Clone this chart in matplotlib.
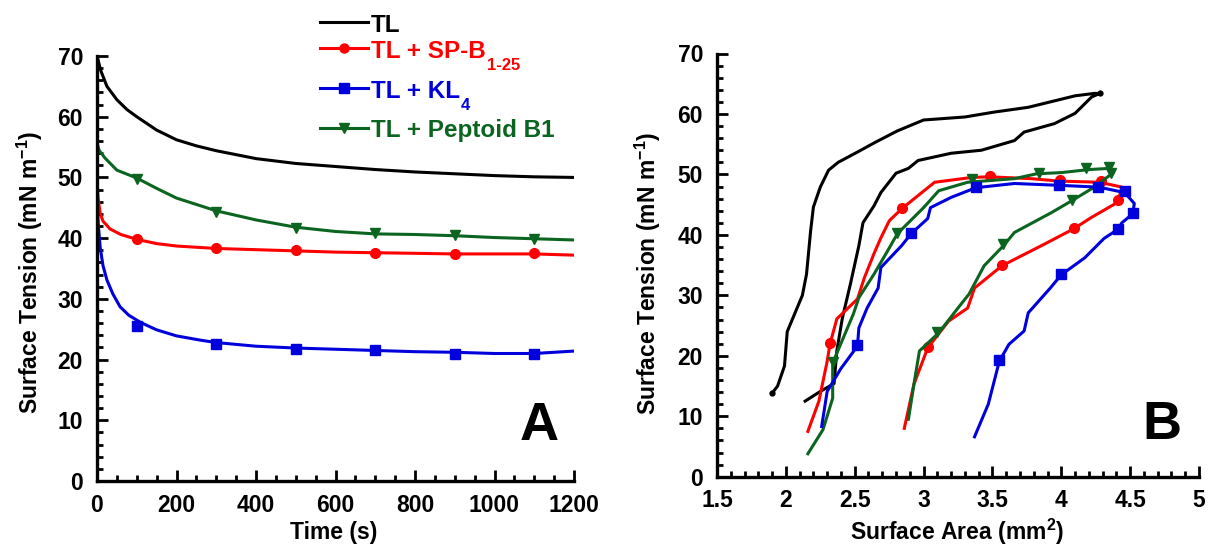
import matplotlib
matplotlib.use("Agg")
import matplotlib.pyplot as plt
from matplotlib.lines import Line2D
from matplotlib.ticker import MultipleLocator

plt.rcParams['font.family'] = ['Liberation Sans', 'DejaVu Sans']
plt.rcParams['font.weight'] = 'bold'
plt.rcParams['mathtext.fontset'] = 'custom'
plt.rcParams['mathtext.rm'] = 'Liberation Sans:bold'
plt.rcParams['mathtext.bf'] = 'Liberation Sans:bold'
plt.rcParams['mathtext.default'] = 'bf'

BLACK = '#000000'
RED = '#ff0000'
BLUE = '#0000dd'
GREEN = '#0b6420'

# ---- panel A: surface tension vs time ----
tl_t = [0, 10, 25, 50, 75, 100, 150, 200, 250, 300, 400, 500, 600, 700, 800, 900, 1000, 1100, 1200]
tl_st = [70, 67.5, 65, 62.8, 61.2, 60, 57.8, 56.2, 55.2, 54.4, 53.1, 52.3, 51.8, 51.3, 50.9, 50.6, 50.3, 50.1, 50.0]

spb_t = [0, 3, 8, 15, 33, 60, 100, 150, 200, 300, 400, 500, 600, 700, 800, 900, 1000, 1100, 1200]
spb_st = [49, 46.5, 44.1, 42.8, 41.5, 40.6, 39.8, 39.1, 38.7, 38.3, 38.1, 37.9, 37.7, 37.6, 37.5, 37.4, 37.4, 37.4, 37.2]

kl4_t = [0, 3, 8, 15, 25, 40, 58, 80, 110, 150, 200, 260, 300, 400, 500, 600, 700, 800, 900, 1000, 1100, 1200]
kl4_st = [46.8, 42.5, 38.5, 35.5, 33.1, 30.8, 28.7, 27.3, 26.1, 24.9, 23.9, 23.2, 22.8, 22.2, 21.9, 21.7, 21.5, 21.3, 21.2, 21.0, 21.0, 21.4]

pep_t = [0, 5, 20, 50, 100, 150, 200, 300, 400, 500, 600, 700, 800, 900, 1000, 1100, 1200]
pep_st = [55.8, 54.5, 53.2, 51.2, 49.9, 48.2, 46.6, 44.5, 43.0, 41.8, 41.1, 40.7, 40.6, 40.4, 40.1, 39.9, 39.7]

mark_t = [100, 300, 500, 700, 900, 1100]
spb_mark = [39.8, 38.3, 38.0, 37.6, 37.4, 37.5]
kl4_mark = [25.5, 22.6, 21.8, 21.6, 21.0, 20.9]
pep_mark = [49.8, 44.3, 41.7, 40.8, 40.5, 39.9]

# ---- panel B: surface tension vs surface area ----
tlB_a = [1.90, 1.94, 1.99, 2.01, 2.12, 2.15, 2.18, 2.20, 2.25, 2.31, 2.38, 2.52, 2.64, 2.81, 3.00, 3.30,
         3.51, 3.76, 4.10, 4.24, 4.28, 4.22, 4.10, 3.95, 3.73, 3.66, 3.42, 3.20, 2.96, 2.89, 2.80, 2.69,
         2.64, 2.56, 2.53, 2.47, 2.41, 2.37, 2.35, 2.25, 2.14]
tlB_st = [13.8, 15.0, 18.3, 24.0, 30.0, 33.5, 40.7, 44.6, 47.9, 50.7, 52.0, 53.7, 55.2, 57.2, 59.0, 59.5,
          60.3, 61.1, 63.0, 63.4, 63.4, 62.8, 60.1, 58.4, 57.0, 55.6, 54.0, 53.5, 52.3, 51.0, 50.2, 47.0,
          44.8, 42.0, 38.2, 32.0, 26.2, 20.8, 15.4, 14.1, 12.5]
tlB_mark_a = [1.90, 4.28]
tlB_mark_st = [13.8, 63.4]

spbB_a = [2.16, 2.24, 2.30, 2.32, 2.37, 2.52, 2.57, 2.64, 2.69, 2.75, 2.84, 3.08, 3.35, 3.48, 3.78, 3.98,
          4.28, 4.44, 4.41, 4.22, 4.09, 3.88, 3.57, 3.37, 3.32, 3.18, 3.03, 2.93, 2.86]
spbB_st = [7.5, 12.5, 19.1, 21.9, 26.1, 29.4, 32.9, 36.9, 39.5, 42.3, 44.3, 48.7, 49.5, 49.6, 49.3, 48.9,
           48.7, 47.9, 45.4, 42.9, 41.0, 38.5, 34.9, 31.2, 27.9, 25.7, 21.3, 15.3, 8.0]
spbB_mark_a = [2.32, 2.84, 3.48, 3.99, 4.29, 4.41, 4.09, 3.57, 3.03]
spbB_mark_st = [22.1, 44.5, 49.7, 49.0, 48.9, 45.7, 41.2, 35.0, 21.5]

kl4B_a = [2.26, 2.30, 2.40, 2.52, 2.53, 2.59, 2.67, 2.69, 2.84, 2.91, 3.03, 3.05, 3.20, 3.38, 3.66, 3.98,
          4.27, 4.46, 4.53, 4.52, 4.44, 4.41, 4.31, 4.17, 4.00, 3.92, 3.76, 3.73, 3.62, 3.55, 3.47, 3.37]
kl4B_st = [8.3, 14.1, 17.9, 21.6, 24.6, 27.9, 31.2, 34.6, 38.2, 40.2, 42.7, 44.5, 46.2, 47.8, 48.5, 48.2,
           47.9, 47.0, 45.2, 43.5, 42.0, 40.9, 39.4, 36.2, 33.4, 31.2, 27.1, 24.1, 21.9, 19.1, 12.0, 6.6]
kl4B_mark_a = [2.52, 2.91, 3.38, 3.98, 4.27, 4.46, 4.52, 4.41, 4.00, 3.55]
kl4B_mark_st = [21.8, 40.3, 48.0, 48.3, 48.0, 47.2, 43.6, 41.0, 33.6, 19.3]

pepB_a = [2.16, 2.27, 2.34, 2.34, 2.49, 2.53, 2.64, 2.74, 2.81, 3.00, 3.11, 3.32, 3.66, 3.82, 4.00, 4.20,
          4.35, 4.38, 4.36, 4.24, 4.08, 3.93, 3.66, 3.58, 3.44, 3.33, 3.26, 3.11, 2.97, 2.93, 2.89]
pepB_st = [3.8, 7.8, 13.0, 18.8, 26.9, 29.6, 33.5, 37.4, 40.2, 44.5, 47.3, 48.7, 49.3, 50.1, 50.3, 50.8,
           51.0, 50.3, 50.0, 47.9, 45.7, 43.7, 40.4, 38.2, 34.9, 30.2, 28.2, 23.8, 20.8, 15.3, 9.5]
pepB_mark_a = [2.34, 2.81, 3.35, 3.84, 4.18, 4.35, 4.36, 4.08, 3.58, 3.10]
pepB_mark_st = [19.0, 40.3, 49.2, 50.3, 51.0, 51.2, 50.2, 45.8, 38.5, 24.0]

W, H = 1208, 548
fig = plt.figure(figsize=(W / 100, H / 100), dpi=100)

axA = fig.add_axes([97 / W, 1 - 481 / H, 477 / W, 425 / H])
axB = fig.add_axes([717 / W, 1 - 476.7 / H, 482 / W, 423.2 / H])

LW = 2.2

axA.plot(tl_t, tl_st, color=BLACK, lw=LW)
axA.plot(pep_t, pep_st, color=GREEN, lw=LW)
axA.plot(spb_t, spb_st, color=RED, lw=LW)
axA.plot(kl4_t, kl4_st, color=BLUE, lw=LW)
axA.plot(mark_t, spb_mark, 'o', color=RED, ms=7)
axA.plot(mark_t, kl4_mark, 's', color=BLUE, ms=6.5)
axA.plot(mark_t, pep_mark, 'v', color=GREEN, ms=7)

axB.plot(tlB_a, tlB_st, color=BLACK, lw=LW)
axB.plot(tlB_mark_a, tlB_mark_st, 'o', color=BLACK, ms=3.5)
axB.plot(spbB_a, spbB_st, color=RED, lw=LW)
axB.plot(spbB_mark_a, spbB_mark_st, 'o', color=RED, ms=7)
axB.plot(pepB_a, pepB_st, color=GREEN, lw=LW)
axB.plot(pepB_mark_a, pepB_mark_st, 'v', color=GREEN, ms=7)
axB.plot(kl4B_a, kl4B_st, color=BLUE, lw=LW)
axB.plot(kl4B_mark_a, kl4B_mark_st, 's', color=BLUE, ms=6.5)

axA.set_xlim(0, 1200)
axA.set_ylim(0, 70)
axA.xaxis.set_major_locator(MultipleLocator(200))
axA.xaxis.set_minor_locator(MultipleLocator(50))
axA.yaxis.set_major_locator(MultipleLocator(10))
axA.yaxis.set_minor_locator(MultipleLocator(2))

axB.set_xlim(1.5, 5)
axB.set_ylim(0, 70)
axB.xaxis.set_major_locator(MultipleLocator(0.5))
axB.xaxis.set_minor_locator(MultipleLocator(0.1))
axB.yaxis.set_major_locator(MultipleLocator(10))
axB.yaxis.set_minor_locator(MultipleLocator(2))
axB.set_xticks([1.5, 2, 2.5, 3, 3.5, 4, 4.5, 5])
axB.set_xticklabels(['1.5', '2', '2.5', '3', '3.5', '4', '4.5', '5'])

for ax in (axA, axB):
    for s in ('top', 'right'):
        ax.spines[s].set_visible(False)
    for s in ('left', 'bottom'):
        ax.spines[s].set_linewidth(2.4)
    ax.tick_params(which='major', direction='in', length=8, width=2, labelsize=16.5)
    ax.tick_params(which='minor', direction='in', length=4, width=2)
    ax.tick_params(axis='x', pad=9)
    ax.tick_params(axis='y', pad=10)
    for lab in ax.get_xticklabels() + ax.get_yticklabels():
        lab.set_fontweight('bold')

fs = 16.5
fig.text(30 / W, 1 - 272 / H, 'Surface Tension (mN m$^{-1}$)', rotation=90,
         ha='center', va='center', fontsize=fs, fontweight='bold')
fig.text(648 / W, 1 - 273 / H, 'Surface Tension (mN m$^{-1}$)', rotation=90,
         ha='center', va='center', fontsize=fs, fontweight='bold')
fig.text(334 / W, 1 - 532 / H, 'Time (s)', ha='center', va='center', fontsize=fs, fontweight='bold')
fig.text(957 / W, 1 - 532 / H, 'Surface Area (mm$^{2}$)', ha='center', va='center',
         fontsize=fs, fontweight='bold')

fig.text(539 / W, 1 - 426 / H, 'A', ha='center', va='center', fontsize=39, fontweight='bold')
fig.text(1162 / W, 1 - 425 / H, 'B', ha='center', va='center', fontsize=39, fontweight='bold')

# legend drawn by hand
legend_rows = [
    ('TL', None, BLACK, None, 21.7, 32.3),
    ('TL + SP-B', '1-25', RED, 'o', 48.3, 58.3),
    ('TL + KL', '4', BLUE, 's', 88.3, 97.7),
    ('TL + Peptoid B1', None, GREEN, 'v', 128.3, 137.3),
]
fig.canvas.draw()
renderer = fig.canvas.get_renderer()
for label, sub, col, mk, yline, ybase in legend_rows:
    fig.add_artist(Line2D([320 / W, 368 / W], [1 - yline / H, 1 - yline / H],
                          color=col, lw=LW, transform=fig.transFigure))
    if mk:
        fig.add_artist(Line2D([344 / W], [1 - yline / H], marker=mk, color=col,
                              ms=6.5, transform=fig.transFigure))
    t = fig.text(371 / W, 1 - ybase / H, label, ha='left', va='baseline',
                 fontsize=17.5, fontweight='bold', color=col)
    if sub:
        bb = t.get_window_extent(renderer)
        fig.text((bb.x1 + 1) / W, 1 - (ybase + 12) / H, sub, ha='left', va='baseline',
                 fontsize=12, fontweight='bold', color=col)

fig.savefig('out.png', dpi=100)
